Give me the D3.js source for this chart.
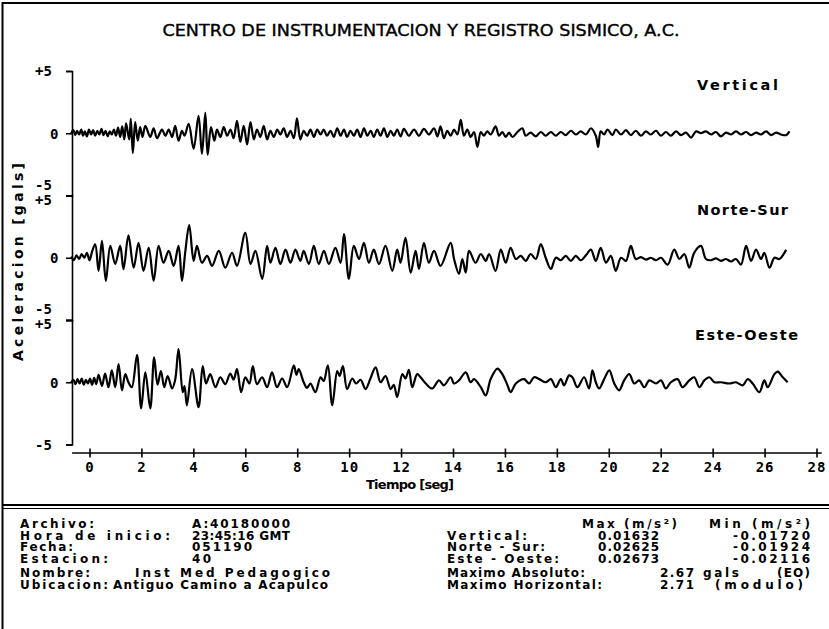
<!DOCTYPE html>
<html>
<head>
<meta charset="utf-8">
<script src="https://cdn.jsdelivr.net/npm/d3@7"></script>
<style>
  body { margin: 0; background: #fff; }
  svg { display: block; }
</style>
</head>
<body>
<svg id="chart" width="829" height="629"></svg>
<script>
// ---- Record data -------------------------------------------------------
const components = ["Vertical", "Norte-Sur", "Este-Oeste"];
const timeTicks = [0, 2, 4, 6, 8, 10, 12, 14, 16, 18, 20, 22, 24, 26, 28];
const accelTicks = [5, 0, -5];

// Acceleration traces, [time (s), acceleration (gals)]
const vertical = [
  [-0.70,0.0],[-0.62,0.25],[-0.55,-0.15],[-0.48,0.2],[-0.40,-0.1],[-0.32,0.3],[-0.25,-0.2],[-0.18,0.15],
  [-0.10,-0.25],[-0.02,0.3],[0.06,-0.1],[0.14,0.25],[0.22,-0.2],[0.30,0.2],[0.38,-0.1],[0.46,0.35],
  [0.54,-0.15],[0.62,0.2],[0.70,-0.25],[0.78,0.15],[0.86,-0.1],[0.94,0.3],[1.02,-0.2],[1.10,0.45],
  [1.18,-0.3],[1.26,0.55],[1.34,-0.5],[1.41,0.8],[1.53,-0.5],[1.59,1.15],[1.67,-1.6],[1.76,0.9],
  [1.86,-0.6],[1.95,0.5],[2.04,-0.3],[2.15,0.6],[2.34,-0.3],[2.47,0.4],[2.60,-0.4],[2.79,0.3],
  [2.92,-0.2],[3.05,0.3],[3.18,-0.3],[3.30,0.6],[3.43,-0.6],[3.56,0.2],[3.66,-0.2],[3.82,0.75],
  [4.01,-1.25],[4.20,1.4],[4.33,-1.65],[4.46,1.63],[4.55,-1.72],[4.68,0.5],[4.81,-0.6],[4.91,0.3],
  [5.04,-0.3],[5.17,0.5],[5.30,-0.2],[5.43,0.3],[5.55,-0.4],[5.68,1.0],[5.81,-0.7],[5.94,0.6],
  [6.07,-0.9],[6.20,0.9],[6.33,-0.5],[6.45,0.3],[6.58,-0.3],[6.71,0.6],[6.84,-0.5],[6.97,0.2],
  [7.10,-0.3],[7.23,0.3],[7.35,-0.1],[7.48,0.4],[7.61,-0.3],[7.74,0.2],[7.87,-0.4],[7.99,1.2],
  [8.12,-0.5],[8.25,0.2],[8.38,-0.2],[8.51,0.3],[8.64,-0.3],[8.77,0.3],[8.90,-0.1],[9.02,0.3],
  [9.15,-0.2],[9.28,0.2],[9.41,-0.3],[9.54,0.4],[9.67,-0.2],[9.80,0.3],[9.92,-0.3],[10.05,0.2],
  [10.18,-0.2],[10.31,0.3],[10.44,-0.3],[10.57,0.4],[10.70,-0.2],[10.83,0.2],[10.95,-0.3],[11.08,0.3],
  [11.21,-0.2],[11.34,0.4],[11.47,-0.3],[11.60,0.2],[11.72,-0.2],[11.85,0.3],[11.98,-0.25],[12.11,0.35],
  [12.30,-0.2],[12.50,0.3],[12.69,-0.2],[12.88,0.35],[13.07,-0.1],[13.27,0.4],[13.40,-0.25],[13.52,0.55],
  [13.65,-0.4],[13.78,0.2],[13.91,-0.2],[14.04,0.3],[14.17,-0.1],[14.30,1.07],[14.42,-0.2],[14.55,0.3],
  [14.68,-0.3],[14.81,0.1],[14.94,-1.1],[15.07,0.1],[15.19,-0.2],[15.32,0.15],[15.45,-0.1],[15.64,0.55],
  [15.77,-0.2],[15.90,0.1],[16.03,-0.3],[16.16,0.05],[16.29,-0.3],[16.48,0.1],[16.67,0.4],[16.80,-0.2],
  [16.99,0.05],[17.19,-0.25],[17.38,0.1],[17.57,-0.2],[17.77,0.1],[17.96,-0.2],[18.15,0.1],[18.34,-0.15],
  [18.54,0.2],[18.73,-0.1],[18.92,0.15],[19.12,-0.1],[19.31,0.4],[19.50,-0.2],[19.59,-1.1],[19.69,0.15],
  [19.82,-0.1],[19.95,0.3],[20.14,-0.15],[20.27,0.3],[20.47,-0.1],[20.66,0.25],[20.85,-0.15],[21.04,0.2],
  [21.24,-0.2],[21.43,0.15],[21.62,-0.1],[21.82,0.2],[22.01,-0.2],[22.20,0.1],[22.39,-0.2],[22.59,0.15],
  [22.78,-0.15],[22.97,0.05],[23.17,-0.35],[23.36,0.15],[23.55,0.0],[23.74,0.15],[23.94,-0.1],[24.13,0.1],
  [24.32,-0.25],[24.51,0.05],[24.71,-0.1],[24.90,0.15],[25.09,-0.1],[25.29,0.1],[25.48,-0.15],[25.67,0.05],
  [25.86,-0.1],[26.06,0.15],[26.25,-0.15],[26.44,0.05],[26.63,-0.1],[26.83,-0.15],[26.96,0.15]
];

const norteSur = [
  [-0.70,0.1],[-0.60,-0.2],[-0.50,0.2],[-0.40,-0.1],[-0.30,0.3],[-0.20,0.0],[-0.10,0.4],[0.00,-0.2],
  [0.10,0.5],[0.22,1.08],[0.35,-1.05],[0.48,1.35],[0.63,-1.86],[0.80,0.95],[0.99,-0.5],[1.18,0.95],
  [1.31,-0.92],[1.50,1.8],[1.70,-0.8],[1.89,1.2],[2.08,-1.05],[2.28,0.8],[2.47,-1.85],[2.66,0.95],
  [2.85,-0.4],[3.05,0.55],[3.24,-0.65],[3.43,0.95],[3.56,-1.85],[3.69,0.5],[3.84,2.62],[4.01,-0.25],
  [4.14,0.95],[4.33,-0.4],[4.53,0.15],[4.72,-0.65],[4.98,0.55],[5.23,-0.8],[5.49,0.4],[5.68,-0.65],
  [6.00,2.0],[6.20,-0.5],[6.39,0.55],[6.65,-1.7],[6.84,0.95],[6.97,-0.4],[7.16,0.8],[7.35,-0.5],
  [7.55,0.65],[7.74,-0.4],[7.93,0.65],[8.12,-0.25],[8.25,0.55],[8.45,-0.5],[8.64,0.95],[8.83,-0.5],
  [9.03,0.55],[9.22,-0.5],[9.47,0.8],[9.67,-0.4],[9.80,1.9],[9.99,-1.7],[10.18,0.95],[10.38,-0.1],
  [10.57,1.2],[10.76,-0.4],[10.95,0.65],[11.15,-0.5],[11.40,0.95],[11.66,-1.05],[11.85,0.65],[11.98,-0.4],
  [12.17,1.6],[12.37,-1.2],[12.56,0.55],[12.69,-0.9],[12.88,1.2],[13.07,-0.4],[13.27,0.55],[13.52,-0.65],
  [13.91,1.2],[14.04,-0.1],[14.23,-1.3],[14.36,-0.1],[14.49,-1.2],[14.62,0.55],[14.87,-0.4],[15.07,0.3],
  [15.26,-0.25],[15.39,0.3],[15.64,-1.05],[15.84,0.65],[16.03,-0.4],[16.22,0.8],[16.42,-0.1],[16.61,0.15],
  [16.80,-0.25],[16.99,0.3],[17.19,-0.1],[17.38,1.1],[17.57,0.0],[17.77,-0.9],[17.96,0.0],[18.15,-0.2],
  [18.34,0.15],[18.54,-0.25],[18.73,0.15],[18.92,-0.2],[19.12,0.2],[19.31,0.65],[19.50,-0.25],[19.69,0.8],
  [19.89,-0.4],[20.08,0.15],[20.27,-1.05],[20.47,0.0],[20.66,-0.25],[20.85,0.95],[21.04,-0.1],[21.24,0.05],
  [21.43,-0.15],[21.62,0.0],[21.82,-0.2],[22.01,0.0],[22.27,-0.55],[22.52,0.65],[22.72,-0.1],[22.91,0.3],
  [23.10,-0.8],[23.29,0.4],[23.55,0.95],[23.74,-0.1],[23.94,-0.2],[24.13,-0.05],[24.32,-0.25],[24.51,-0.1],
  [24.71,-0.3],[24.90,-0.1],[25.09,-0.55],[25.29,0.95],[25.48,-0.25],[25.67,0.65],[25.86,-0.1],[25.99,0.4],
  [26.19,-0.8],[26.38,0.0],[26.57,-0.1],[26.83,0.65]
];

const esteOeste = [
  [-0.70,0.0],[-0.62,0.2],[-0.54,-0.15],[-0.46,0.25],[-0.38,-0.1],[-0.30,0.3],[-0.22,-0.2],[-0.14,0.2],
  [-0.06,-0.1],[0.02,0.3],[0.10,-0.2],[0.18,0.35],[0.26,-0.15],[0.35,0.6],[0.48,-0.3],[0.60,0.7],
  [0.73,-0.4],[0.86,0.95],[0.99,-0.4],[1.12,1.45],[1.25,-0.65],[1.38,0.65],[1.50,0.0],[1.63,-0.4],
  [1.83,2.2],[1.99,-2.1],[2.15,0.8],[2.34,-2.1],[2.49,2.0],[2.62,-0.2],[2.75,0.9],[2.88,-0.4],
  [3.01,0.5],[3.18,-0.5],[3.30,0.2],[3.43,2.67],[3.59,-0.8],[3.66,-0.3],[3.75,-1.85],[3.95,1.05],
  [4.20,-2.0],[4.36,1.3],[4.49,-0.1],[4.65,0.65],[4.85,-0.4],[5.04,0.4],[5.23,-0.15],[5.42,0.7],
  [5.55,0.2],[5.68,1.05],[5.84,-0.8],[6.00,0.4],[6.16,-0.1],[6.29,1.3],[6.45,-0.15],[6.65,0.4],
  [6.84,-0.4],[7.03,0.8],[7.22,-0.4],[7.42,0.3],[7.61,-0.4],[7.87,1.35],[7.97,0.6],[8.06,1.05],
  [8.25,0.0],[8.38,-0.45],[8.51,-0.1],[8.70,-0.8],[8.90,0.4],[9.02,0.1],[9.18,1.35],[9.35,-1.85],
  [9.54,0.9],[9.63,0.5],[9.76,1.3],[9.92,-0.55],[10.12,0.3],[10.27,-0.1],[10.44,0.2],[10.63,-0.55],
  [10.82,0.3],[11.02,1.2],[11.21,0.0],[11.40,0.5],[11.60,-0.55],[11.72,-0.2],[11.85,-1.2],[12.05,0.65],
  [12.17,0.3],[12.30,1.0],[12.43,-0.4],[12.62,0.65],[12.75,0.4],[12.95,-0.1],[13.20,-0.5],[13.46,0.15],
  [13.65,-0.25],[13.91,0.4],[14.04,-0.1],[14.23,0.15],[14.49,0.8],[14.68,0.0],[14.81,0.25],[15.07,-0.4],
  [15.26,-1.05],[15.45,0.25],[15.71,1.1],[15.90,0.65],[16.10,-0.25],[16.22,-0.8],[16.42,-0.1],[16.74,0.25],
  [16.93,-0.1],[17.12,0.4],[17.32,0.25],[17.57,0.0],[17.77,0.25],[17.96,-0.4],[18.15,0.25],[18.28,-0.25],
  [18.47,0.55],[18.60,0.4],[18.79,-0.4],[19.05,0.4],[19.24,-0.5],[19.37,0.95],[19.50,0.0],[19.63,-0.5],
  [19.82,0.25],[20.02,0.95],[20.21,-0.1],[20.40,-0.65],[20.59,0.15],[20.79,0.65],[20.98,-0.1],[21.17,0.15],
  [21.37,-0.4],[21.56,0.15],[21.82,-0.1],[22.01,0.15],[22.20,-0.5],[22.39,0.0],[22.65,0.25],[22.84,-0.4],
  [23.10,0.15],[23.29,0.4],[23.49,-0.4],[23.68,0.15],[23.87,0.4],[24.07,0.0],[24.32,0.0],[24.64,-0.1],
  [24.90,0.0],[25.16,-0.25],[25.35,0.25],[25.54,-0.1],[25.80,-0.8],[25.99,0.15],[26.12,-0.4],[26.38,0.65],
  [26.51,0.85],[26.70,0.4],[26.89,0.0]
];
const traces = [vertical, norteSur, esteOeste];

// Station and record details
const titleText = "CENTRO DE INSTRUMENTACION Y REGISTRO SISMICO, A.C.";
const xAxisTitle = "Tiempo [seg]";
const yAxisTitle = "Aceleracion [gals]";
const recordLabels = ["Archivo:", "Hora de inicio:", "Fecha:", "Estacion:"];
const recordValues = ["A:40180000", "23:45:16 GMT", "051190", "40"];
const stationLabels = ["Nombre:", "Ubicacion:"];
const stationValues = ["Inst Med Pedagogico", "Antiguo Camino a Acapulco"];
const peakHeaders = ["Max (m/s²)", "Min (m/s²)"];
const peakComponents = ["Vertical:", "Norte - Sur:", "Este - Oeste:"];
const peakMax = ["0.01632", "0.02625", "0.02673"];
const peakMin = ["-0.01720", "-0.01924", "-0.02116"];
const summaryLabels = ["Maximo Absoluto:", "Maximo Horizontal:"];
const summaryValues = ["2.67", "2.71"];
const summaryNotes = [["gals", "(EO)"], ["", "(modulo)"]];

// ---- Drawing -----------------------------------------------------------
const svg = d3.select("#chart");
const W = 829, H = 629;
svg.append("rect").attr("width", W).attr("height", H).attr("fill", "#fff");

const SANS = "'DejaVu Sans', Verdana, sans-serif";
const MONO = "'DejaVu Sans Mono', monospace";

// writes a text string spread or squeezed to a given width
function put(g, str, x, y, width, opts = {}) {
  const t = g.append("text")
    .attr("x", x).attr("y", y)
    .attr("font-family", opts.family || SANS)
    .attr("font-size", opts.size || 12)
    .attr("font-weight", opts.weight || "bold")
    .attr("fill", "#000")
    .attr("text-anchor", opts.anchor || "start")
    .text(str);
  if (width) t.attr("textLength", width).attr("lengthAdjust", opts.adjust || "spacing");
  if (opts.stroke) t.attr("stroke", "#000").attr("stroke-width", opts.stroke);
  return t;
}

// page frame
const frame = svg.append("g").attr("stroke", "#000").attr("fill", "none");
frame.append("line").attr("x1", 2.5).attr("x2", 2.5).attr("y1", 2).attr("y2", H).attr("stroke-width", 2);
frame.append("line").attr("x1", 2).attr("x2", W).attr("y1", 3).attr("y2", 3).attr("stroke-width", 2.2);
frame.append("line").attr("x1", 2).attr("x2", W).attr("y1", 505).attr("y2", 505).attr("stroke-width", 2);
frame.append("line").attr("x1", 2).attr("x2", W).attr("y1", 508.5).attr("y2", 508.5).attr("stroke-width", 1.2);

// title
put(svg, titleText, 421, 36, 517, { weight: "normal", size: 15, anchor: "middle",
  adjust: "spacingAndGlyphs", stroke: 0.35 });

// scales
const x = d3.scaleLinear().domain([0, 28]).range([89.5, 816.5]);
const panelTop = 71, panelH = 124.5, axisX = 72;
const yScales = components.map((c, i) =>
  d3.scaleLinear().domain([-5, 5]).range([panelTop + (i + 1) * panelH, panelTop + i * panelH]));

// stacked acceleration axes
yScales.forEach((y, i) => {
  const g = svg.append("g").attr("transform", `translate(${axisX},0)`)
    .call(d3.axisLeft(y).tickValues(accelTicks).tickSize(6).tickSizeOuter(6)
      .tickFormat(d => d > 0 ? "+" + d : String(d)));
  g.selectAll("path, line").attr("stroke", "#000").attr("stroke-width", 1.6);
  g.selectAll("text")
    .attr("font-family", MONO).attr("font-weight", "bold").attr("font-size", 14)
    .attr("fill", "#000")
    .attr("text-anchor", "start")
    .attr("x", d => d === 0 ? -22 : -37)
    .attr("dy", d => {
      if (d === 5 && i > 0) return "0.62em";
      if (d === -5 && i < 2) return "-0.45em";
      return "0.35em";
    });
});

// time axis: a line with cross ticks
const xAxisY = 453;
const gx = svg.append("g").attr("transform", `translate(0,${xAxisY})`)
  .call(d3.axisBottom(x).tickValues(timeTicks).tickSize(0).tickPadding(9));
gx.select(".domain").remove();
gx.append("line").attr("x1", x(-0.67)).attr("x2", x(28.2)).attr("stroke", "#000").attr("stroke-width", 1.6);
gx.selectAll(".tick").append("line").attr("y1", -4.5).attr("y2", 4.5)
  .attr("stroke", "#000").attr("stroke-width", 1.6);
gx.selectAll(".tick text")
  .attr("font-family", MONO).attr("font-weight", "bold").attr("font-size", 14)
  .attr("letter-spacing", 1).attr("fill", "#000");
put(svg, xAxisTitle, 366, 489, 88, { size: 13 });

// acceleration title
put(svg, yAxisTitle, 0, 0, 198, { size: 14 })
  .attr("text-anchor", "middle")
  .attr("transform", "translate(23,262) rotate(-90)");

// traces
const line = d3.line().x(d => x(d[0])).curve(d3.curveCatmullRom.alpha(0.5));
traces.forEach((data, i) => {
  const y = yScales[i];
  svg.append("path")
    .attr("d", line.y(d => y(d[1]))(data))
    .attr("fill", "none").attr("stroke", "#000")
    .attr("stroke-width", 2.2).attr("stroke-linejoin", "round");
});

// component names
const nameWidths = [81, 91, 103];
const nameX = [697, 697, 695];
const nameY = [90, 215, 340];
components.forEach((c, i) => put(svg, c, nameX[i], nameY[i], nameWidths[i], { size: 14.5 }));

// ---- record details block ---------------------------------------------
const rowY = [528, 539.5, 551, 562.5, 577, 588.5];
const infoSize = 12;
const recLabelW = [74, 150, 53, 88];
const recValueW = [98, 98, 60, 19];
recordLabels.forEach((s, i) => put(svg, s, 20, rowY[i], recLabelW[i], { size: infoSize }));
recordValues.forEach((s, i) => put(svg, s, 192, rowY[i], recValueW[i], { size: infoSize }));
const stLabelW = [70, 88];
const stValueX = [135, 113];
const stValueW = [195, 215];
stationLabels.forEach((s, i) => put(svg, s, 20, rowY[4 + i], stLabelW[i], { size: infoSize }));
stationValues.forEach((s, i) => put(svg, s, stValueX[i], rowY[4 + i], stValueW[i], { size: infoSize }));

put(svg, peakHeaders[0], 582, rowY[0], 95, { size: infoSize });
put(svg, peakHeaders[1], 709, rowY[0], 101, { size: infoSize });
const compW = [80, 98, 112];
peakComponents.forEach((s, i) => put(svg, s, 447, rowY[1 + i], compW[i], { size: infoSize }));
peakMax.forEach((s, i) => put(svg, s, 598, rowY[1 + i], 61, { size: infoSize }));
peakMin.forEach((s, i) => put(svg, s, 733, rowY[1 + i], 77, { size: infoSize }));
const sumLabelW = [138, 155];
summaryLabels.forEach((s, i) => put(svg, s, 447, rowY[4 + i], sumLabelW[i], { size: infoSize }));
summaryValues.forEach((s, i) => put(svg, s, 660, rowY[4 + i], 34, { size: infoSize }));
put(svg, summaryNotes[0][0], 703, rowY[4], 36, { size: infoSize });
put(svg, summaryNotes[0][1], 777, rowY[4], 33, { size: infoSize });
put(svg, summaryNotes[1][1], 715, rowY[5], 88, { size: infoSize });
</script>
</body>
</html>
